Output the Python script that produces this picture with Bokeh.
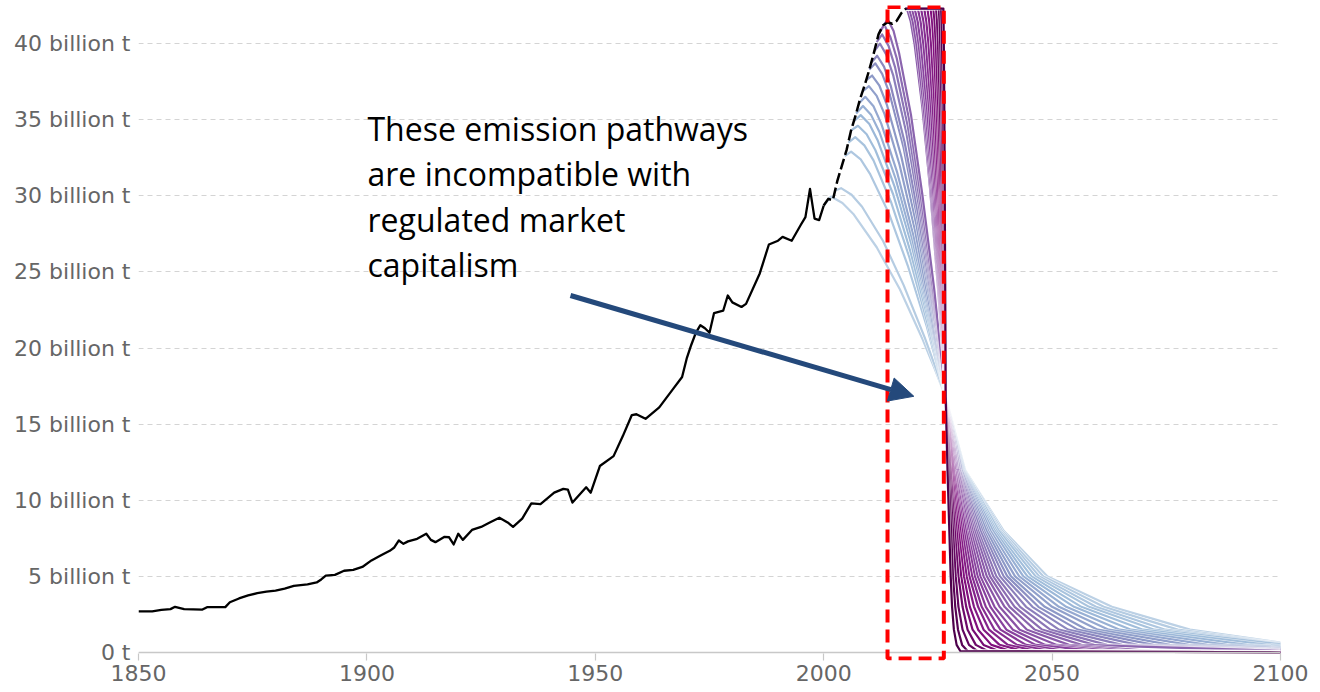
from bokeh.plotting import figure
from bokeh.models import Range1d, FixedTicker, BoxAnnotation, Arrow, NormalHead, Label, Span
from bokeh.embed import file_html
from bokeh.resources import INLINE

# ---------------- data ----------------
x_ticks = [1850, 1900, 1950, 2000, 2050, 2100]
y_ticks = [0, 5, 10, 15, 20, 25, 30, 35, 40]
y_tick_labels = ["0 t", "5 billion t", "10 billion t", "15 billion t", "20 billion t",
                 "25 billion t", "30 billion t", "35 billion t", "40 billion t"]

# historical emissions (billion t), solid part
hist_years = [1850, 1853, 1855, 1857, 1858, 1860, 1864, 1865, 1869, 1870,
              1872, 1874, 1876, 1878, 1880, 1882, 1884, 1887, 1889, 1890,
              1891, 1893, 1895, 1897, 1899, 1901, 1903, 1905, 1906, 1907,
              1908, 1909, 1911, 1913, 1914, 1915, 1917, 1918, 1919, 1920,
              1921, 1923, 1925, 1927, 1929, 1931, 1932, 1934, 1936, 1938,
              1941, 1943, 1944, 1945, 1948, 1949, 1951, 1954, 1956, 1958,
              1959, 1961, 1964, 1967, 1969, 1970, 1971, 1972, 1973, 1974,
              1975, 1976, 1978, 1979, 1980, 1982, 1983, 1986, 1988, 1990,
              1991, 1993, 1995, 1996, 1997, 1998, 1999, 2000]
hist_values = [2.7, 2.7, 2.8, 2.85, 3.0, 2.85, 2.82, 2.98, 2.98, 3.3,
               3.55, 3.75, 3.9, 4.0, 4.07, 4.2, 4.37, 4.47, 4.6, 4.8,
               5.05, 5.1, 5.37, 5.43, 5.62, 6.05, 6.37, 6.68, 6.9, 7.36,
               7.14, 7.3, 7.47, 7.8, 7.4, 7.25, 7.6, 7.57, 7.1, 7.8,
               7.4, 8.05, 8.25, 8.55, 8.85, 8.5, 8.25, 8.8, 9.8, 9.75,
               10.5, 10.75, 10.7, 9.85, 10.85, 10.5, 12.25, 12.9, 14.2, 15.6,
               15.65, 15.35, 16.1, 17.3, 18.1, 19.3, 20.2, 21.0, 21.5, 21.3,
               21.0, 22.3, 22.45, 23.45, 23.0, 22.7, 22.9, 24.9, 26.8, 27.05,
               27.3, 27.05, 28.1, 28.6, 30.45, 28.5, 28.4, 29.36]

# recent emissions, dashed part
recent_years = [2000, 2001, 2002, 2003, 2004, 2005, 2006, 2007, 2008, 2009,
                2010, 2011, 2012, 2013, 2014, 2015, 2016, 2017, 2018]
recent_values = [29.36, 29.8, 29.7, 31.0, 32.0, 33.0, 34.3, 35.3, 36.4, 37.3,
                 38.3, 39.4, 40.6, 41.2, 41.4, 41.3, 41.5, 42.0, 42.3]

# mitigation pathways (30 curves, light -> dark)
branch_year = [2000.0, 2002.5, 2004.6, 2005.4, 2006.0, 2006.6, 2007.1, 2007.7, 2008.5, 2009.3,
               2010.0, 2010.4, 2011.1, 2011.6, 2012.1, 2012.35,
               2017.9, 2017.9, 2017.9, 2017.9, 2017.9, 2017.9, 2017.9, 2017.9, 2017.9, 2017.9,
               2017.9, 2017.9, 2017.9, 2017.9]
branch_value = [29.36, 30.35, 32.6, 33.5, 34.3, 34.9, 35.4, 36.07, 36.85, 37.6,
                38.3, 38.74, 39.5, 40.1, 40.66, 40.8,
                42.3, 42.3, 42.3, 42.3, 42.3, 42.3, 42.3, 42.3, 42.3, 42.3,
                42.3, 42.3, 42.3, 42.3]
peak_year = [2001.6, 2003.8, 2006.0, 2006.9, 2007.5, 2008.1, 2008.6, 2009.1, 2009.9, 2010.6,
             2011.3, 2011.7, 2012.3, 2012.8, 2013.3, 2014.0,
             2018.2, 2018.7, 2019.3, 2019.9, 2020.6, 2021.3, 2022.0, 2022.7, 2023.4, 2024.0,
             2024.6, 2025.2, 2025.7, 2026.2]
peak_value = [29.95, 30.5, 32.9, 33.85, 34.6, 35.3, 35.9, 36.5, 37.2, 37.9,
              38.7, 39.2, 40.0, 40.6, 41.2, 41.6,
              42.3, 42.3, 42.3, 42.3, 42.3, 42.3, 42.3, 42.3, 42.3, 42.3,
              42.3, 42.3, 42.3, 42.3]

desc1_year = [2004.1, 2006.1, 2008.1, 2008.9, 2009.4, 2010.0, 2010.4, 2010.9, 2011.6, 2012.2,
              2012.8, 2013.2, 2013.7, 2014.2, 2014.6, 2015.3,
              2019.05, 2019.5, 2020.04, 2020.58, 2021.21, 2021.84, 2022.47, 2023.1, 2023.73, 2024.27,
              2024.81, 2025.35, 2025.8, 2026.25]
desc1_value = [29.53, 30.07, 32.39, 33.31, 34.04, 34.72, 35.30, 35.88, 36.56, 37.23,
               38.01, 38.49, 39.27, 39.85, 40.43, 40.82,
               41.45, 41.45, 41.45, 41.45, 41.45, 41.45, 41.45, 41.45, 41.45, 41.45,
               41.45, 41.45, 41.45, 41.45]
desc2_year = [2006.6, 2008.4, 2010.1, 2010.9, 2011.3, 2011.8, 2012.2, 2012.6, 2013.3, 2013.8,
              2014.4, 2014.7, 2015.2, 2015.6, 2016.0, 2016.5,
              2019.9, 2020.3, 2020.78, 2021.26, 2021.82, 2022.38, 2022.94, 2023.5, 2024.06, 2024.54,
              2025.02, 2025.5, 2025.9, 2026.3]
desc2_value = [28.77, 29.28, 31.46, 32.33, 33.01, 33.65, 34.19, 34.74, 35.38, 36.01,
               36.74, 37.20, 37.93, 38.47, 39.02, 39.38,
               39.97, 39.97, 39.97, 39.97, 39.97, 39.97, 39.97, 39.97, 39.97, 39.97,
               39.97, 39.97, 39.97, 39.97]
desc3_year = [2011.6, 2013.0, 2014.3, 2014.8, 2015.2, 2015.5, 2015.8, 2016.1, 2016.6, 2017.0,
              2017.5, 2017.7, 2018.1, 2018.4, 2018.7, 2019.1,
              2021.6, 2021.9, 2022.26, 2022.62, 2023.04, 2023.46, 2023.88, 2024.3, 2024.72, 2025.08,
              2025.44, 2025.8, 2026.1, 2026.4]
desc3_value = [26.62, 27.03, 28.83, 29.54, 30.10, 30.62, 31.07, 31.52, 32.04, 32.56,
               33.16, 33.53, 34.13, 34.58, 35.03, 35.33,
               35.81, 35.81, 35.81, 35.81, 35.81, 35.81, 35.81, 35.81, 35.81, 35.81,
               35.81, 35.81, 35.81, 35.81]
desc4_year = [2016.7, 2017.5, 2018.4, 2018.8, 2019.0, 2019.3, 2019.5, 2019.7, 2020.0, 2020.3,
              2020.5, 2020.7, 2020.9, 2021.1, 2021.3, 2021.6,
              2023.3, 2023.5, 2023.74, 2023.98, 2024.26, 2024.54, 2024.82, 2025.1, 2025.38, 2025.62,
              2025.86, 2026.1, 2026.3, 2026.5]
desc4_value = [23.84, 24.13, 25.42, 25.92, 26.33, 26.70, 27.02, 27.34, 27.72, 28.09,
               28.52, 28.79, 29.22, 29.54, 29.86, 30.07,
               30.42, 30.42, 30.42, 30.42, 30.42, 30.42, 30.42, 30.42, 30.42, 30.42,
               30.42, 30.42, 30.42, 30.42]
desc5_year = [2021.7, 2022.1, 2022.6, 2022.7, 2022.9, 2023.0, 2023.1, 2023.2, 2023.3, 2023.5,
              2023.6, 2023.7, 2023.8, 2023.9, 2024.0, 2024.2,
              2025.0, 2025.1, 2025.22, 2025.34, 2025.48, 2025.62, 2025.76, 2025.9, 2026.04, 2026.16,
              2026.28, 2026.4, 2026.5, 2026.6]
desc5_value = [20.54, 20.70, 21.38, 21.65, 21.86, 22.06, 22.23, 22.40, 22.60, 22.80,
               23.03, 23.17, 23.40, 23.57, 23.74, 23.86,
               24.04, 24.04, 24.04, 24.04, 24.04, 24.04, 24.04, 24.04, 24.04, 24.04,
               24.04, 24.04, 24.04, 24.04]
desc6_year = [2024.2, 2024.4, 2024.6, 2024.7, 2024.8, 2024.8, 2024.9, 2024.9, 2025.0, 2025.1,
              2025.2, 2025.2, 2025.3, 2025.3, 2025.4, 2025.4,
              2025.85, 2025.9, 2025.96, 2026.02, 2026.09, 2026.16, 2026.23, 2026.3, 2026.37, 2026.43,
              2026.49, 2026.55, 2026.6, 2026.65]
desc6_value = [18.72, 18.80, 19.15, 19.29, 19.40, 19.50, 19.59, 19.68, 19.78, 19.88,
               20.0, 20.07, 20.19, 20.28, 20.37, 20.42,
               20.52, 20.52, 20.52, 20.52, 20.52, 20.52, 20.52, 20.52, 20.52, 20.52,
               20.52, 20.52, 20.52, 20.52]

cross_year = 2026.7
cross_value = 16.8

# years at which each pathway falls to the given level (None: not reached by 2100)
tail_levels = [12, 8, 5, 3, 1.5, 0.5, 0.1]
tail_12_year = [2030.9, 2030.9, 2030.8, 2030.8, 2030.7, 2030.6, 2030.5, 2030.4, 2030.3, 2030.2,
                2030.1, 2029.9, 2029.8, 2029.7, 2029.5, 2029.4, 2029.3, 2029.1, 2029.0, 2028.8,
                2028.7, 2028.5, 2028.4, 2028.2, 2028.0, 2027.8, 2027.7, 2027.5, 2027.3, 2027.1]
tail_8_year = [2039.4, 2039.0, 2038.6, 2038.3, 2037.8, 2037.4, 2037.0, 2036.5, 2036.0, 2035.6,
               2035.1, 2034.7, 2034.3, 2033.8, 2033.4, 2033.0, 2032.6, 2032.2, 2031.8, 2031.4,
               2031.1, 2030.7, 2030.3, 2029.9, 2029.5, 2029.1, 2028.7, 2028.3, 2027.9, 2027.5]
tail_5_year = [2049.0, 2048.1, 2047.2, 2046.4, 2045.5, 2044.6, 2043.7, 2042.8, 2041.9, 2041.0,
               2040.2, 2039.4, 2038.6, 2037.8, 2037.1, 2036.4, 2035.7, 2035.0, 2034.3, 2033.7,
               2033.1, 2032.5, 2031.9, 2031.3, 2030.7, 2030.1, 2029.5, 2028.9, 2028.3, 2027.8]
tail_3_year = [2063.1, 2061.3, 2059.6, 2058.1, 2056.4, 2054.8, 2053.1, 2051.5, 2050.0, 2048.4,
               2047.0, 2045.7, 2044.3, 2043.0, 2041.8, 2040.7, 2039.6, 2038.5, 2037.4, 2036.5,
               2035.5, 2034.6, 2033.8, 2032.9, 2032.0, 2031.2, 2030.4, 2029.5, 2028.8, 2028.1]
tail_1_5_year = [2080.2, 2077.5, 2074.8, 2072.4, 2069.9, 2067.3, 2064.8, 2062.4, 2060.0, 2057.6,
                 2055.6, 2053.5, 2051.5, 2049.6, 2047.8, 2046.2, 2044.5, 2042.9, 2041.4, 2040.0,
                 2038.7, 2037.4, 2036.2, 2035.0, 2033.8, 2032.6, 2031.5, 2030.4, 2029.4, 2028.5]
tail_0_5_year = [None, None, None, None, 2097.2, 2092.7, 2088.3, 2084.0, 2079.9, 2075.8,
                 2072.2, 2068.7, 2065.3, 2062.0, 2059.2, 2056.4, 2053.7, 2051.0, 2048.5, 2046.4,
                 2044.3, 2042.3, 2040.3, 2038.5, 2036.7, 2035.0, 2033.3, 2031.8, 2030.3, 2029.1]
tail_0_1_year = [None, None, None, None, None, None, None, None, None, None,
                 None, None, None, None, None, None, 2072.0, 2067.5, 2063.5, 2059.5,
                 2053.1, 2049.7, 2046.6, 2043.6, 2040.9, 2038.3, 2035.9, 2033.6, 2031.5, 2029.9]
value_2100 = [0.65, 0.6, 0.57, 0.53, 0.45, 0.4, 0.35, 0.3, 0.26, 0.22,
              0.19, 0.17, 0.15, 0.13, 0.11, 0.1, 0.06, 0.05, 0.04, 0.04,
              0.03, 0.03, 0.02, 0.02, 0.01, 0.01, 0.0, 0.0, 0.0, 0.0]

note_lines = ["These emission pathways", "are incompatible with",
              "regulated market", "capitalism"]

# ---------------- styling helpers ----------------
BUPU = ["#f7fcfd", "#e0ecf4", "#bfd3e6", "#9ebcda", "#8c96c6",
        "#8c6bb1", "#88419d", "#810f7c", "#4d004b"]


def bupu(pos):
    i = min(int(pos), 7)
    f = pos - i
    a = BUPU[i]
    b = BUPU[i + 1]
    ca = [int(a[j:j + 2], 16) for j in (1, 3, 5)]
    cb = [int(b[j:j + 2], 16) for j in (1, 3, 5)]
    c = [round(ca[n] + (cb[n] - ca[n]) * f) for n in range(3)]
    return "#%02x%02x%02x" % tuple(c)


# ---------------- figure ----------------
p = figure(width=1320, height=692, output_backend="svg", toolbar_location=None,
           x_range=Range1d(1850, 2100), y_range=Range1d(-0.525, 42.50),
           min_border_left=138, min_border_right=40, min_border_top=5, min_border_bottom=32)
p.outline_line_color = None
p.background_fill_color = "white"
p.border_fill_color = "white"

p.xgrid.grid_line_color = None
p.ygrid.grid_line_color = "#d4d4d4"
p.ygrid.grid_line_dash = "5 4"
p.ygrid.grid_line_width = 1

p.yaxis.ticker = FixedTicker(ticks=y_ticks)
p.yaxis.major_label_overrides = {t: s for t, s in zip(y_ticks, y_tick_labels)}
p.yaxis.axis_line_color = None
p.yaxis.major_tick_line_color = None
p.yaxis.minor_tick_line_color = None
p.yaxis.major_tick_out = 0
p.yaxis.major_label_standoff = 8
p.yaxis.major_label_text_font = "DejaVu Sans"
p.yaxis.major_label_text_font_size = "22px"
p.yaxis.major_label_text_color = "#666666"

p.xaxis.ticker = FixedTicker(ticks=x_ticks)
p.xaxis.axis_line_color = None
p.xaxis.major_tick_line_color = "#c8c8c8"
p.xaxis.major_tick_line_width = 1.2
p.xaxis.major_tick_out = 0
p.xaxis.major_tick_in = 7
p.xaxis.minor_tick_line_color = None
p.xaxis.major_label_standoff = 4
p.xaxis.major_label_text_font = "DejaVu Sans"
p.xaxis.major_label_text_font_size = "22px"
p.xaxis.major_label_text_color = "#666666"

# zero baseline (axis line)
p.add_layout(Span(location=0, dimension="width", line_color="#c8c8c8", line_width=1.5))

# pathways
n_curves = len(peak_year)
desc_year_cols = [desc1_year, desc2_year, desc3_year, desc4_year, desc5_year, desc6_year]
desc_value_cols = [desc1_value, desc2_value, desc3_value, desc4_value, desc5_value, desc6_value]
tail_cols = [tail_12_year, tail_8_year, tail_5_year, tail_3_year, tail_1_5_year,
             tail_0_5_year, tail_0_1_year]
for k in range(n_curves):
    xs = [branch_year[k], peak_year[k]]
    ys = [branch_value[k], peak_value[k]]
    for cy, cv in zip(desc_year_cols, desc_value_cols):
        xs.append(cy[k])
        ys.append(cv[k])
    xs.append(cross_year)
    ys.append(cross_value)
    for lvl, col in zip(tail_levels, tail_cols):
        if col[k] is not None:
            xs.append(col[k])
            ys.append(lvl)
    xs.append(2100)
    ys.append(value_2100[k])
    pos = 2.1 + 5.9 * k / (n_curves - 1)
    col = bupu(pos)
    p.line(xs, ys, line_color="white", line_width=3.4, line_alpha=0.7, line_join="round")
    p.line(xs, ys, line_color=col, line_width=2.2, line_alpha=1.0, line_join="round")

# history
p.line(hist_years, hist_values, line_color="black", line_width=2.3, line_join="round")
p.line(recent_years, recent_values, line_color="black", line_width=2.5,
       line_dash="11 4", line_join="round")

# red dashed box
box = BoxAnnotation(left=2013.97, right=2026.3, top=42.40, bottom=-0.39,
                    fill_alpha=0, fill_color=None, line_color="#ff0000", line_alpha=1.0,
                    line_width=4, line_dash="13 7")
p.add_layout(box)

# arrow
blue = "#24497b"
p.add_layout(Arrow(end=NormalHead(size=24, fill_color=blue, line_color=blue, line_width=1),
                   x_start=1944.57, y_start=23.45, x_end=2019.73, y_end=16.83,
                   line_color=blue, line_width=5))

# annotation text
note_y = [34.42, 31.44, 28.47, 25.48]
for txt, yy in zip(note_lines, note_y):
    p.add_layout(Label(x=1900.13, y=yy, text=txt, text_font="Open Sans",
                       text_font_size="32px", text_color="#000000",
                       text_baseline="alphabetic", text_align="left"))

open("out.html", "w").write(file_html(p, INLINE))
